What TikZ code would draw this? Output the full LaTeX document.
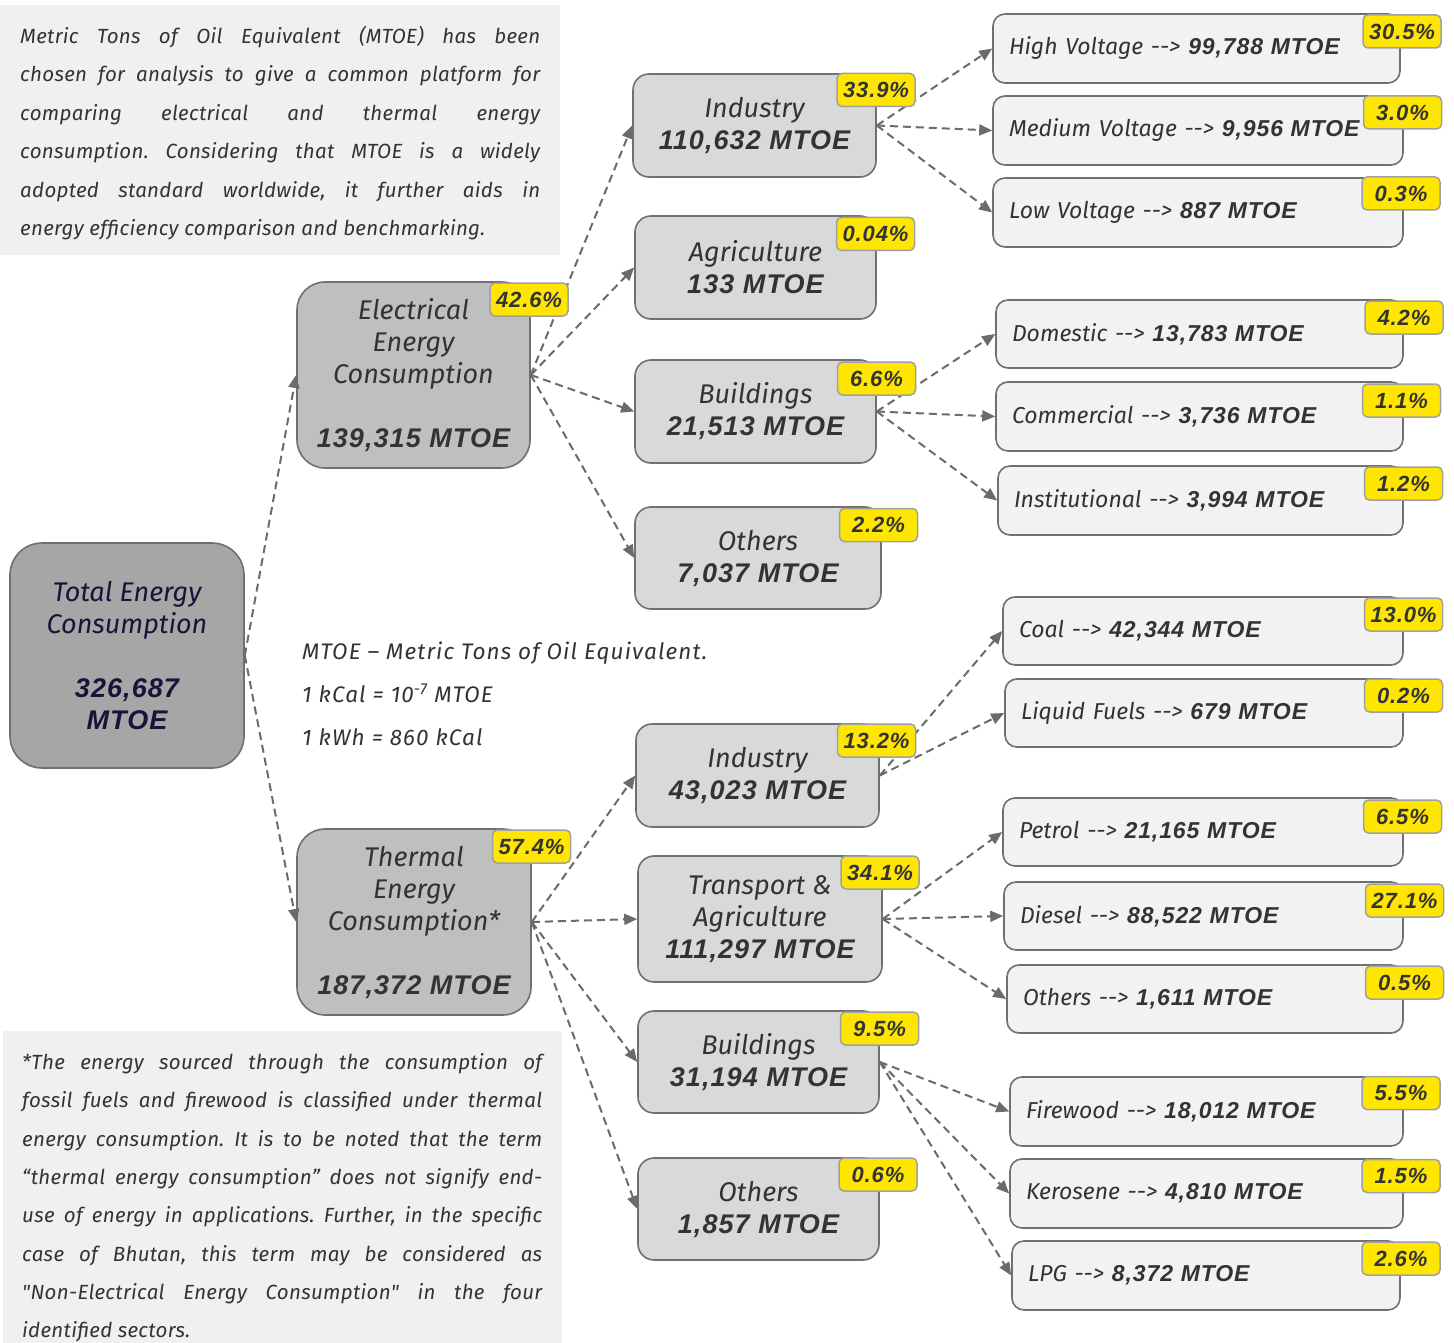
\documentclass[tikz,border=0pt]{standalone}
\usepackage{fontspec}
\setmainfont{Fira Sans}[Ligatures=TeXOff]
\newfontfamily\numfont{Liberation Sans}[Ligatures=TeXOff, LetterSpace=4]
\newfontfamily\notefont{Fira Sans}[Ligatures=TeXOff, LetterSpace=5]
\newfontfamily\parafont{Fira Sans}[Ligatures=TeXOff, LetterSpace=1.5]
\usetikzlibrary{arrows.meta}
\definecolor{txtc}{HTML}{333333}
\definecolor{navy}{HTML}{15153A}
\definecolor{bordc}{HTML}{707070}
\definecolor{arrc}{HTML}{6B6B6B}
\definecolor{c0}{HTML}{A6A6A6}
\definecolor{c1}{HTML}{BFBFBF}
\definecolor{c2}{HTML}{D9D9D9}
\definecolor{c3}{HTML}{F2F2F2}
\definecolor{descbg}{HTML}{F0F0F0}
\definecolor{yel}{HTML}{FFE600}
\definecolor{badgeb}{HTML}{A0A0A0}
\newcommand{\bnum}[1]{{\numfont\bfseries\itshape #1}}
\tikzset{
  bx/.style={draw=bordc, line width=1.6pt, text=txtc, align=center, inner sep=0pt},
  lvlzero/.style={bx, fill=c0, rounded corners=32pt, text=navy, font=\fontsize{27}{32}\selectfont\itshape},
  lvlone/.style={bx, fill=c1, rounded corners=28pt, font=\fontsize{27}{32}\selectfont\itshape},
  lvltwo/.style={bx, fill=c2, rounded corners=16pt, font=\fontsize{27}{32}\selectfont\itshape},
  lvlthree/.style={bx, fill=c3, rounded corners=12pt, align=left, inner xsep=16pt, inner ysep=0pt, font=\fontsize{23}{28}\selectfont\itshape},
  badge/.style={draw=badgeb, fill=yel, line width=1.5pt, rounded corners=5pt, minimum width=78pt, minimum height=33pt, inner sep=0pt, text=txtc, font=\fontsize{22}{24}\selectfont\numfont\bfseries\itshape},
  conn/.style={draw=arrc, line width=2pt, dash pattern=on 8pt off 5pt, -{Triangle[length=13pt,width=11pt]}},
  para/.style={inner sep=0pt, text=txtc, anchor=base west},
}
\newcommand{\arr}{-\kern0pt-\kern0pt>}
\frenchspacing
\begin{document}
\begin{tikzpicture}[x=1pt,y=-1pt]
\useasboundingbox (0,0) rectangle (1454,1343);
\fill[white] (0,0) rectangle (1454,1343);
% description boxes
\fill[descbg] (0,5) rectangle (560,255);
\fill[descbg] (3,1031) rectangle (562,1343);
\node[para] (desctop) at (20,43.5) {\parbox[t]{520pt}{\fontsize{20.5}{38.5}\selectfont\parafont\itshape\frenchspacing\hyphenpenalty=10000\tolerance=10000\emergencystretch=20pt
Metric Tons of Oil Equivalent (MTOE) has been\linebreak chosen for analysis to give a common platform for\linebreak comparing electrical and thermal energy\linebreak consumption. Considering that MTOE is a widely\linebreak adopted standard worldwide, it further aids in\linebreak energy efficiency comparison and benchmarking.}};
\node[para] (descbot) at (22,1069.5) {\parbox[t]{520pt}{\fontsize{20.5}{38.3}\selectfont\parafont\itshape\frenchspacing\hyphenpenalty=10000\tolerance=10000\emergencystretch=20pt
*The energy sourced through the consumption of\linebreak fossil fuels and firewood is classified under thermal\linebreak energy consumption. It is to be noted that the term\linebreak “thermal energy consumption” does not signify end-\linebreak use of energy in applications. Further, in the specific\linebreak case of Bhutan, this term may be considered as\linebreak "Non-Electrical Energy Consumption" in the four\linebreak identified sectors.}};
% middle notes
\node[para, font=\fontsize{22.5}{26}\selectfont\notefont\itshape] (note1) at (302,659.5) {MTOE – Metric Tons of Oil Equivalent.};
\node[para, font=\fontsize{22.5}{26}\selectfont\notefont\itshape] (note2) at (302,702.5) {1 kCal = 10\textsuperscript{-7} MTOE};
\node[para, font=\fontsize{22.5}{26}\selectfont\notefont\itshape] (note3) at (302,745.5) {1 kWh = 860 kCal};
% level 0 and 1
\node[lvlzero, minimum width=234pt, minimum height=225pt] (tot) at (127,655.5) {Total Energy\\Consumption\\[32pt]\bnum{326,687}\\\bnum{MTOE}};
\node[lvlone, minimum width=233pt, minimum height=186pt] (elec) at (413.5,375) {Electrical\\Energy\\Consumption\\[32pt]\bnum{139,315 MTOE}};
\node[lvlone, minimum width=234pt, minimum height=186pt] (therm) at (414,922) {Thermal\\Energy\\Consumption*\\[32pt]\bnum{187,372 MTOE}};
% level 2
\node[lvltwo, minimum width=243pt, minimum height=103pt] (indE) at (754.5,125.5) {Industry\\\bnum{110,632 MTOE}};
\node[lvltwo, minimum width=241pt, minimum height=103pt] (agr) at (755.5,267.5) {Agriculture\\\bnum{133 MTOE}};
\node[lvltwo, minimum width=241pt, minimum height=103pt] (bldE) at (755.5,411.5) {Buildings\\\bnum{21,513 MTOE}};
\node[lvltwo, minimum width=246pt, minimum height=102pt] (othE) at (758,558) {Others\\\bnum{7,037 MTOE}};
\node[lvltwo, minimum width=243pt, minimum height=103pt] (indT) at (757.5,775.5) {Industry\\\bnum{43,023 MTOE}};
\node[lvltwo, minimum width=244pt, minimum height=126pt] (trn) at (760,919) {Transport \&\\Agriculture\\\bnum{111,297 MTOE}};
\node[lvltwo, minimum width=241pt, minimum height=102pt] (bldT) at (758.5,1062) {Buildings\\\bnum{31,194 MTOE}};
\node[lvltwo, minimum width=241pt, minimum height=102pt] (othT) at (758.5,1209) {Others\\\bnum{1,857 MTOE}};
% level 3
\node[lvlthree, text width=375pt, minimum height=69pt] (hv) at (1196.5,48.5) {High Voltage \arr{} \bnum{99,788 MTOE}};
\node[lvlthree, text width=378pt, minimum height=69pt] (mv) at (1198,130.5) {Medium Voltage \arr{} \bnum{9,956 MTOE}};
\node[lvlthree, text width=378pt, minimum height=69pt] (lv) at (1198,212.5) {Low Voltage \arr{} \bnum{887 MTOE}};
\node[lvlthree, text width=375pt, minimum height=68pt] (dom) at (1199.5,334) {Domestic \arr{} \bnum{13,783 MTOE}};
\node[lvlthree, text width=375pt, minimum height=69pt] (com) at (1199.5,416.5) {Commercial \arr{} \bnum{3,736 MTOE}};
\node[lvlthree, text width=373pt, minimum height=69pt] (ins) at (1200.5,500.5) {Institutional \arr{} \bnum{3,994 MTOE}};
\node[lvlthree, text width=368pt, minimum height=68pt] (coal) at (1203,631) {Coal \arr{} \bnum{42,344 MTOE}};
\node[lvlthree, text width=366pt, minimum height=68pt] (liq) at (1204,713) {Liquid Fuels \arr{} \bnum{679 MTOE}};
\node[lvlthree, text width=368pt, minimum height=68pt] (pet) at (1203,832) {Petrol \arr{} \bnum{21,165 MTOE}};
\node[lvlthree, text width=367pt, minimum height=68pt] (die) at (1203.5,916) {Diesel \arr{} \bnum{88,522 MTOE}};
\node[lvlthree, text width=364pt, minimum height=68pt] (oth3) at (1205,999) {Others \arr{} \bnum{1,611 MTOE}};
\node[lvlthree, text width=361pt, minimum height=69pt] (fire) at (1206.5,1111.5) {Firewood \arr{} \bnum{18,012 MTOE}};
\node[lvlthree, text width=361pt, minimum height=69pt] (ker) at (1206.5,1193.5) {Kerosene \arr{} \bnum{4,810 MTOE}};
\node[lvlthree, text width=356pt, minimum height=69pt] (lpg) at (1206,1275.5) {LPG \arr{} \bnum{8,372 MTOE}};
% connectors
\draw[conn] (tot.east) -- (elec.west);
\draw[conn] (tot.east) -- (therm.west);
\draw[conn] (elec.east) -- (indE.west);
\draw[conn] (elec.east) -- (agr.west);
\draw[conn] (elec.east) -- (bldE.west);
\draw[conn] (elec.east) -- (othE.west);
\draw[conn] (therm.east) -- (indT.west);
\draw[conn] (therm.east) -- (trn.west);
\draw[conn] (therm.east) -- (bldT.west);
\draw[conn] (therm.east) -- (othT.west);
\draw[conn] (indE.east) -- (hv.west);
\draw[conn] (indE.east) -- (mv.west);
\draw[conn] (indE.east) -- (lv.west);
\draw[conn] (bldE.east) -- (dom.west);
\draw[conn] (bldE.east) -- (com.west);
\draw[conn] (bldE.east) -- (ins.west);
\draw[conn] (indT.east) -- (coal.west);
\draw[conn] (indT.east) -- (liq.west);
\draw[conn] (trn.east) -- (pet.west);
\draw[conn] (trn.east) -- (die.west);
\draw[conn] (trn.east) -- (oth3.west);
\draw[conn] (bldT.east) -- (fire.west);
\draw[conn] (bldT.east) -- (ker.west);
\draw[conn] (bldT.east) -- (lpg.west);
% badges
\node[badge] (b-elec) at (529,299.5) {42.6\%};
\node[badge] (b-therm) at (531.5,846.5) {57.4\%};
\node[badge] (b-indE) at (876,90) {33.9\%};
\node[badge] (b-agr) at (875.5,234) {0.04\%};
\node[badge] (b-bldE) at (876.5,378.5) {6.6\%};
\node[badge] (b-othE) at (878.5,525) {2.2\%};
\node[badge] (b-indT) at (876.5,740.5) {13.2\%};
\node[badge] (b-trn) at (880,872.5) {34.1\%};
\node[badge] (b-bldT) at (879.5,1028.5) {9.5\%};
\node[badge] (b-othT) at (878,1174.5) {0.6\%};
\node[badge] (b-hv) at (1402,31.5) {30.5\%};
\node[badge] (b-mv) at (1402.5,112.5) {3.0\%};
\node[badge] (b-lv) at (1401,193.5) {0.3\%};
\node[badge] (b-dom) at (1404,317.5) {4.2\%};
\node[badge] (b-com) at (1401.5,400.5) {1.1\%};
\node[badge] (b-ins) at (1403.5,483.5) {1.2\%};
\node[badge] (b-coal) at (1403.5,614.5) {13.0\%};
\node[badge] (b-liq) at (1403.5,695.5) {0.2\%};
\node[badge] (b-pet) at (1402.5,816.5) {6.5\%};
\node[badge] (b-die) at (1404.5,900.5) {27.1\%};
\node[badge] (b-oth3) at (1404.5,982.5) {0.5\%};
\node[badge] (b-fire) at (1401,1093) {5.5\%};
\node[badge] (b-ker) at (1401,1176) {1.5\%};
\node[badge] (b-lpg) at (1401,1258.5) {2.6\%};
\end{tikzpicture}
\end{document}
